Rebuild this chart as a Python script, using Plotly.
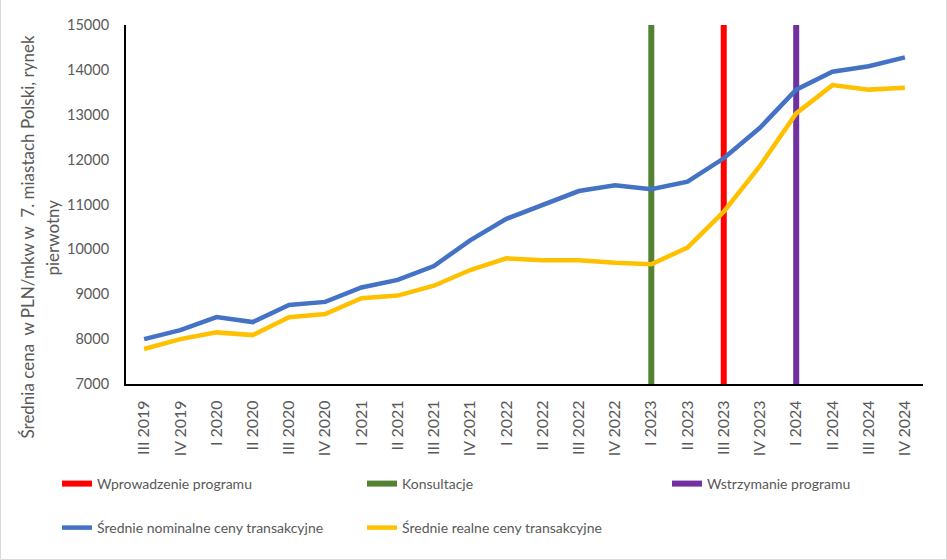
import plotly.graph_objects as go

quarters = ["III 2019", "IV 2019", "I 2020", "II 2020", "III 2020", "IV 2020",
            "I 2021", "II 2021", "III 2021", "IV 2021", "I 2022", "II 2022",
            "III 2022", "IV 2022", "I 2023", "II 2023", "III 2023", "IV 2023",
            "I 2024", "II 2024", "III 2024", "IV 2024"]
nominal = [8000, 8200, 8490, 8380, 8760, 8830, 9150, 9320, 9630, 10200, 10680,
           10990, 11300, 11430, 11340, 11510, 12030, 12710, 13560, 13960, 14080, 14280]
real = [7780, 8000, 8150, 8090, 8490, 8560, 8910, 8970, 9190, 9540, 9800,
        9760, 9760, 9700, 9670, 10040, 10840, 11860, 13030, 13660, 13560, 13600]

event_names = ["Wprowadzenie programu", "Konsultacje", "Wstrzymanie programu"]
event_quarters = ["III 2023", "I 2023", "I 2024"]
event_colors = ["#FF0000", "#548235", "#7030A0"]

series_names = ["Średnie nominalne ceny transakcyjne", "Średnie realne ceny transakcyjne"]
series_colors = ["#4472C4", "#FFC000"]

y_ticks = [7000, 8000, 9000, 10000, 11000, 12000, 13000, 14000, 15000]
y_title_lines = ["Średnia cena  w PLN/mkw w  7. miastach Polski, rynek", "pierwotny"]

Y_MIN, Y_MAX = y_ticks[0], y_ticks[-1]
FONT = "Lato"
GREY = "#595959"

W, H = 947, 560
ML, MR, MT, MB = 126, 24, 25, 176
PW, PH = W - ML - MR, H - MT - MB

fig = go.Figure()

for name, q, c in zip(event_names, event_quarters, event_colors):
    fig.add_trace(go.Scatter(
        x=[q, q], y=[Y_MIN, Y_MAX], mode="lines", name=name,
        line=dict(color=c, width=6), legend="legend", hoverinfo="skip",
        legendwidth=260 if name != event_names[-1] else 150,
    ))

for name, vals, c in zip(series_names, [nominal, real], series_colors):
    fig.add_trace(go.Scatter(
        x=quarters, y=vals, mode="lines", name=name,
        line=dict(color=c, width=4.5), legend="legend2",
        legendwidth=260 if name != series_names[-1] else 220,
    ))

# y-axis title as two rotated text lines (Excel-like placement)
title_center_y = (MT + PH - 237.5) / PH
for line_text, px in zip(y_title_lines, [27, 52]):
    fig.add_annotation(
        text=line_text, xref="paper", yref="paper",
        x=(px - ML) / PW, y=title_center_y,
        xanchor="center", yanchor="middle", textangle=-90,
        showarrow=False, font=dict(family=FONT, size=17, color=GREY),
    )

fig.update_layout(
    width=W, height=H,
    margin=dict(l=ML, r=MR, t=MT, b=MB, autoexpand=False),
    paper_bgcolor="white", plot_bgcolor="white",
    font=dict(family=FONT, color=GREY, size=14),
    showlegend=True,
    legend=dict(
        orientation="h", x=(57 - ML) / PW, xanchor="left",
        y=-(468 - (MT + PH)) / PH, yanchor="top",
        font=dict(family=FONT, size=14, color=GREY),
        entrywidth=260, bgcolor="rgba(0,0,0,0)",
    ),
    legend2=dict(
        orientation="h", x=(57 - ML) / PW, xanchor="left",
        y=-(512 - (MT + PH)) / PH, yanchor="top",
        font=dict(family=FONT, size=14, color=GREY),
        entrywidth=260, bgcolor="rgba(0,0,0,0)",
    ),
    xaxis=dict(
        type="category", categoryorder="array", categoryarray=quarters,
        range=[-0.5, len(quarters) - 0.5],
        showline=True, linecolor="black", linewidth=2,
        showgrid=False, zeroline=False, ticks="",
        tickangle=-90, tickfont=dict(family=FONT, size=16, color=GREY),
        ticklabelstandoff=8,
    ),
    yaxis=dict(
        range=[Y_MIN, Y_MAX], tickvals=y_ticks, tickformat="d",
        showline=True, linecolor="black", linewidth=2,
        showgrid=False, zeroline=False, ticks="",
        tickfont=dict(family=FONT, size=14.5, color=GREY),
        ticklabelstandoff=12,
    ),
    shapes=[dict(
        type="rect", xref="paper", yref="paper",
        x0=-(ML - 0.5) / PW, x1=(W - ML - 0.5) / PW,
        y0=-(MB - 0.5) / PH, y1=(H - MT - 0.5) / PH,
        line=dict(color="#D9D9D9", width=1), layer="above",
    )],
)

fig.write_html(
    "out.html",
    config={"displayModeBar": False},
    post_script="document.body.style.margin='0';document.body.style.overflow='hidden';",
)
